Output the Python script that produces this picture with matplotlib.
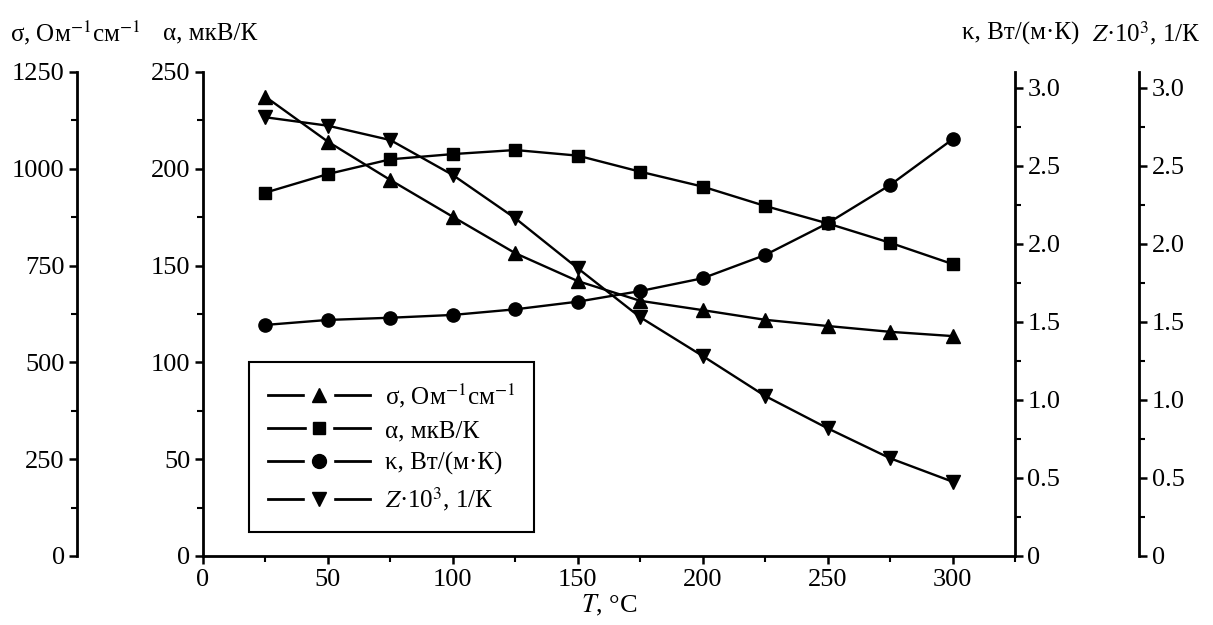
import numpy as np
import matplotlib
matplotlib.use("Agg")
import matplotlib.pyplot as plt
from matplotlib.lines import Line2D
from matplotlib.legend_handler import HandlerTuple
from matplotlib.ticker import MultipleLocator, FuncFormatter

plt.rcParams['font.family'] = ['Liberation Serif', 'DejaVu Serif']
plt.rcParams['mathtext.fontset'] = 'stix'

# data
T = [25, 50, 75, 100, 125, 150, 175, 200, 225, 250, 275, 300]
sigma = [1186, 1070, 971, 876, 782, 710, 659, 635, 610, 594, 579, 568]
alpha = [187.7, 197.3, 204.9, 207.6, 209.7, 206.8, 198.5, 190.8, 180.8, 171.8, 161.8, 150.8]
kappa = [1.480, 1.512, 1.526, 1.544, 1.580, 1.629, 1.697, 1.779, 1.928, 2.131, 2.376, 2.669]
Z = [2.810, 2.756, 2.664, 2.440, 2.163, 1.843, 1.529, 1.281, 1.025, 0.818, 0.626, 0.476]

lbl_sigma = 'σ, Ом$^{-1}$см$^{-1}$'
lbl_alpha = 'α, мкВ/К'
lbl_kappa = 'κ, Вт/(м·К)'
lbl_Z = '$Z$·10$^{3}$, 1/К'

W, H = 1213, 625
fig = plt.figure(figsize=(W / 100, H / 100), dpi=100)
ax = fig.add_axes([203 / W, 69 / H, 812 / W, 484 / H])

ax_s = ax.twinx()
ax_k = ax.twinx()
ax_z = ax.twinx()

lw_sp = 2.0
tick_kw = dict(direction='out', width=1.8, length=6, labelsize=19, pad=3)
mtick_kw = dict(direction='out', width=1.5, length=4)

# main axes (alpha on the left)
ax.set_xlim(0, 325)
ax.set_ylim(0, 250)
ax.set_xticks([0, 50, 100, 150, 200, 250, 300])
ax.xaxis.set_minor_locator(MultipleLocator(25))
ax.yaxis.set_major_locator(MultipleLocator(50))
ax.yaxis.set_minor_locator(MultipleLocator(25))
ax.tick_params(axis='both', which='major', **tick_kw)
ax.tick_params(axis='both', which='minor', **mtick_kw)
ax.spines['top'].set_visible(False)
ax.spines['right'].set_visible(False)
for s in ['left', 'bottom']:
    ax.spines[s].set_linewidth(lw_sp)
ax.set_xlabel('$T$, °C', fontsize=19, labelpad=2)

def fmt(v, pos):
    return '0' if v == 0 else f'{v:.1f}'

# sigma axis, far left
ax_s.set_ylim(0, 1250)
for s in ['top', 'right', 'bottom']:
    ax_s.spines[s].set_visible(False)
ax_s.spines['left'].set_visible(True)
ax_s.spines['left'].set_position(('axes', -0.155))
ax_s.spines['left'].set_linewidth(lw_sp)
ax_s.yaxis.set_ticks_position('left')
ax_s.yaxis.set_major_locator(MultipleLocator(250))
ax_s.yaxis.set_minor_locator(MultipleLocator(125))
ax_s.tick_params(axis='y', which='major', **tick_kw)
ax_s.tick_params(axis='y', which='minor', **mtick_kw)

# kappa axis, right spine
ax_k.set_ylim(0, 3.1)
for s in ['top', 'left', 'bottom']:
    ax_k.spines[s].set_visible(False)
ax_k.spines['right'].set_linewidth(lw_sp)
ax_k.yaxis.set_major_locator(MultipleLocator(0.5))
ax_k.yaxis.set_minor_locator(MultipleLocator(0.25))
ax_k.yaxis.set_major_formatter(FuncFormatter(fmt))
ax_k.tick_params(axis='y', which='major', **tick_kw)
ax_k.tick_params(axis='y', which='minor', **mtick_kw)

# Z axis, far right
ax_z.set_ylim(0, 3.1)
for s in ['top', 'left', 'bottom']:
    ax_z.spines[s].set_visible(False)
ax_z.spines['right'].set_position(('axes', 1.153))
ax_z.spines['right'].set_linewidth(lw_sp)
ax_z.yaxis.set_major_locator(MultipleLocator(0.5))
ax_z.yaxis.set_minor_locator(MultipleLocator(0.25))
ax_z.yaxis.set_major_formatter(FuncFormatter(fmt))
ax_z.tick_params(axis='y', which='major', **tick_kw)
ax_z.tick_params(axis='y', which='minor', **mtick_kw)

line_kw = dict(color='black', lw=1.7, markerfacecolor='black', markeredgecolor='black')
ax_s.plot(T, sigma, marker='^', ms=10.5, **line_kw)
ax.plot(T, alpha, marker='s', ms=8.5, **line_kw)
ax_k.plot(T, kappa, marker='o', ms=9.5, **line_kw)
ax_z.plot(T, Z, marker='v', ms=10.5, **line_kw)

# headers above the axes
hy = 1 - 33 / H
fig.text(10 / W, hy, lbl_sigma, fontsize=18, va='center', ha='left')
fig.text(163 / W, hy, lbl_alpha, fontsize=18, va='center', ha='left')
fig.text(962 / W, hy, lbl_kappa, fontsize=18, va='center', ha='left')
fig.text(1092 / W, hy, lbl_Z, fontsize=18, va='center', ha='left')

# legend: line - marker - line, with a gap around the marker
def handle(marker, ms):
    base = Line2D([], [], color='black', lw=2.0)
    gap = Line2D([], [], lw=0, marker='s', ms=ms + 10,
                 markerfacecolor='white', markeredgecolor='white')
    mk = Line2D([], [], color='black', lw=0, marker=marker, ms=ms)
    return (base, gap, mk)

handles = [handle('^', 10), handle('s', 8), handle('o', 10), handle('v', 10)]
labels = [lbl_sigma, lbl_alpha, lbl_kappa, lbl_Z]
leg = ax.legend(handles, labels, handler_map={tuple: HandlerTuple(ndivide=1)},
                loc='lower left', bbox_to_anchor=(46 / 812, 24 / 484),
                borderaxespad=0, fancybox=False, framealpha=1, edgecolor='black',
                fontsize=18, handlelength=4.1, handletextpad=0.6,
                labelspacing=0.4, borderpad=0.75, numpoints=1)
leg.get_frame().set_linewidth(1.5)
leg.set_zorder(5)

fig.savefig('out.png', dpi=100)
